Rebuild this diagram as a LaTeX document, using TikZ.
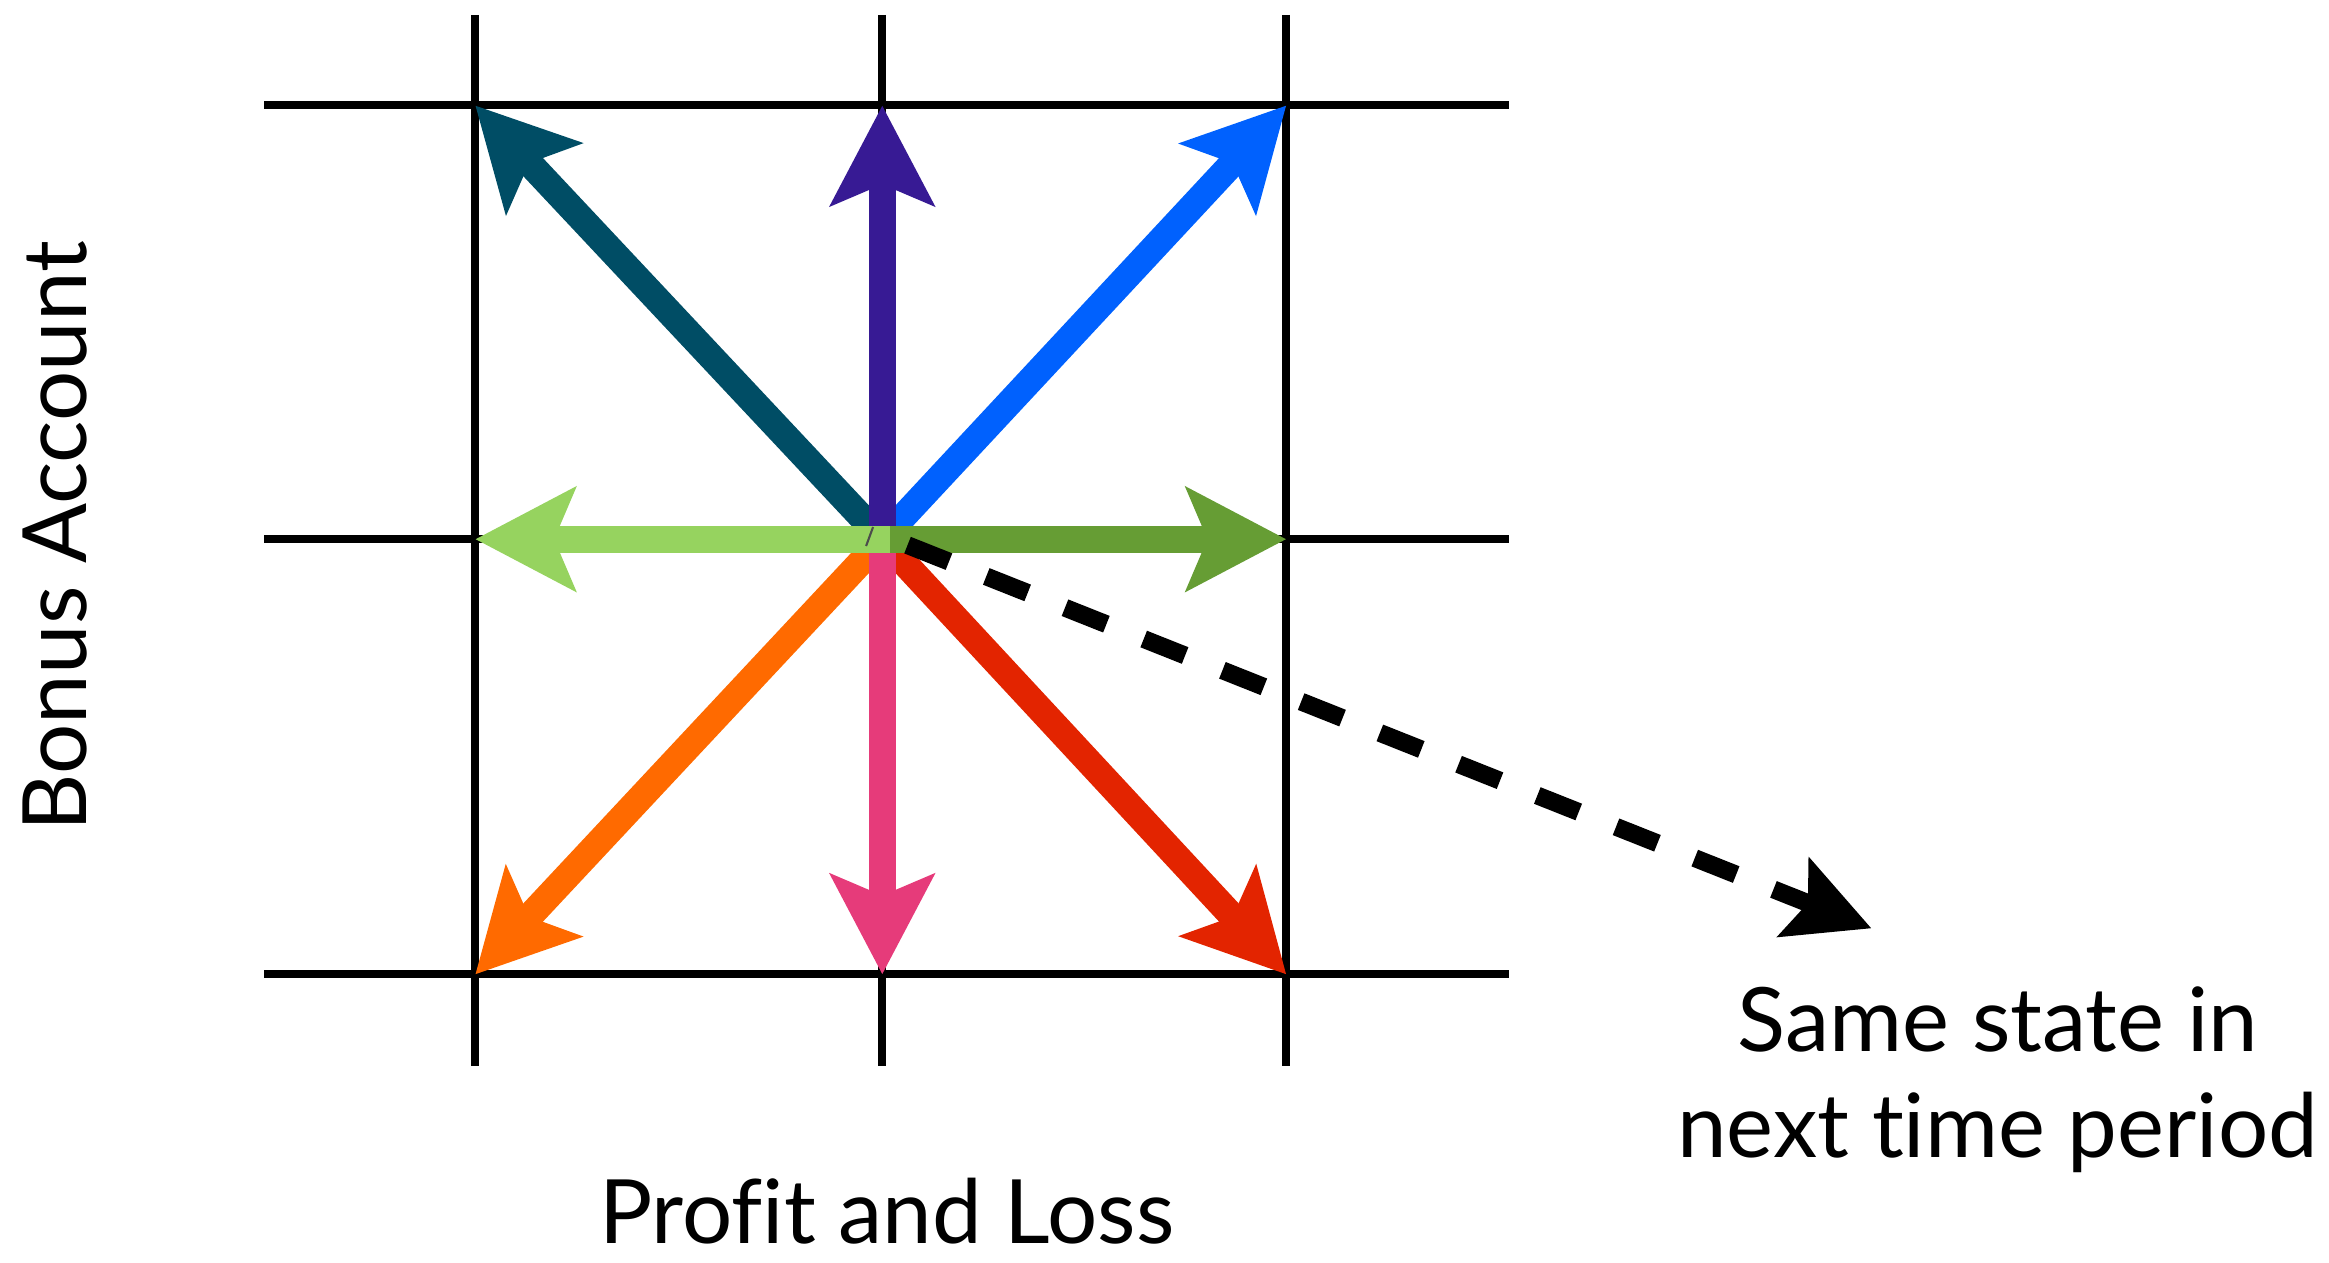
\documentclass[tikz,border=0pt]{standalone}
\usepackage{fontspec}
\setmainfont{Lato}
\usetikzlibrary{arrows.meta}
\definecolor{cteal}{HTML}{004D65}
\definecolor{cpurple}{HTML}{371A94}
\definecolor{cblue}{HTML}{0061FE}
\definecolor{clgreen}{HTML}{96D35F}
\definecolor{cdgreen}{HTML}{669D34}
\definecolor{corange}{HTML}{FF6A00}
\definecolor{cpink}{HTML}{E63B7A}
\definecolor{cred}{HTML}{E32400}
\tikzset{
  gridline/.style={line width=0.054cm, black},
  bigarrow/.style={line width=0.18cm, -{Stealth[length=0.67cm,width=0.69cm,inset=0.14cm]}},
  dasharrow/.style={line width=0.12cm, black, dash pattern=on 0.30cm off 0.27cm,
     -{Stealth[length=0.56cm,width=0.56cm,inset=0.10cm]}},
  lbl/.style={font=\fontsize{17}{20}\selectfont\addfontfeatures{Ligatures=NoCommon}, inner sep=0pt, text=black}
}
\begin{document}
\begin{tikzpicture}[x=0.01cm,y=-0.01cm]
\useasboundingbox (0,0) rectangle (1568,850);
% grid
\draw[gridline] (320,10) -- (320,718);
\draw[gridline] (594,10) -- (594,718);
\draw[gridline] (866,10) -- (866,718);
\draw[gridline] (178,71) -- (1016,71);
\draw[gridline] (178,363) -- (1016,363);
\draw[gridline] (178,656) -- (1016,656);
% points
\coordinate (C) at (594,363);
\coordinate (Cg) at (599,363);
\coordinate (TL) at (320,71);
\coordinate (T) at (594,71);
\coordinate (TR) at (866,71);
\coordinate (L) at (320,363);
\coordinate (R) at (866,363);
\coordinate (BL) at (320,656);
\coordinate (B) at (594,656);
\coordinate (BR) at (866,656);
% diagonal arrows
\draw[bigarrow, cteal] (C) -- (TL);
\draw[bigarrow, cblue] (C) -- (TR);
\draw[bigarrow, corange] (C) -- (BL);
\draw[bigarrow, cred] (C) -- (BR);
% vertical arrows
\draw[bigarrow, cpurple] (C) -- (T);
\draw[bigarrow, cpink] (C) -- (B);
% horizontal arrows
\draw[bigarrow, cdgreen] (Cg) -- (R);
\draw[bigarrow, clgreen] (Cg) -- (L);
\draw[line width=0.4pt, black!70] (587.8,354.8) -- (583.1,367.6);
% dashed arrow
\coordinate (ds) at (611,367);
\coordinate (de) at (1260,625);
\draw[dasharrow] (ds) -- (de);
% labels
\node[lbl, anchor=base] (pl) at (597,837) {Profit and Loss};
\node[lbl, anchor=base] (s1) at (1345,708) {Same state in};
\node[lbl, anchor=base] (s2) at (1345,779) {next time period};
\node[lbl, anchor=base, rotate=90] (ba) at (58,361) {Bonus Account};
\end{tikzpicture}
\end{document}
